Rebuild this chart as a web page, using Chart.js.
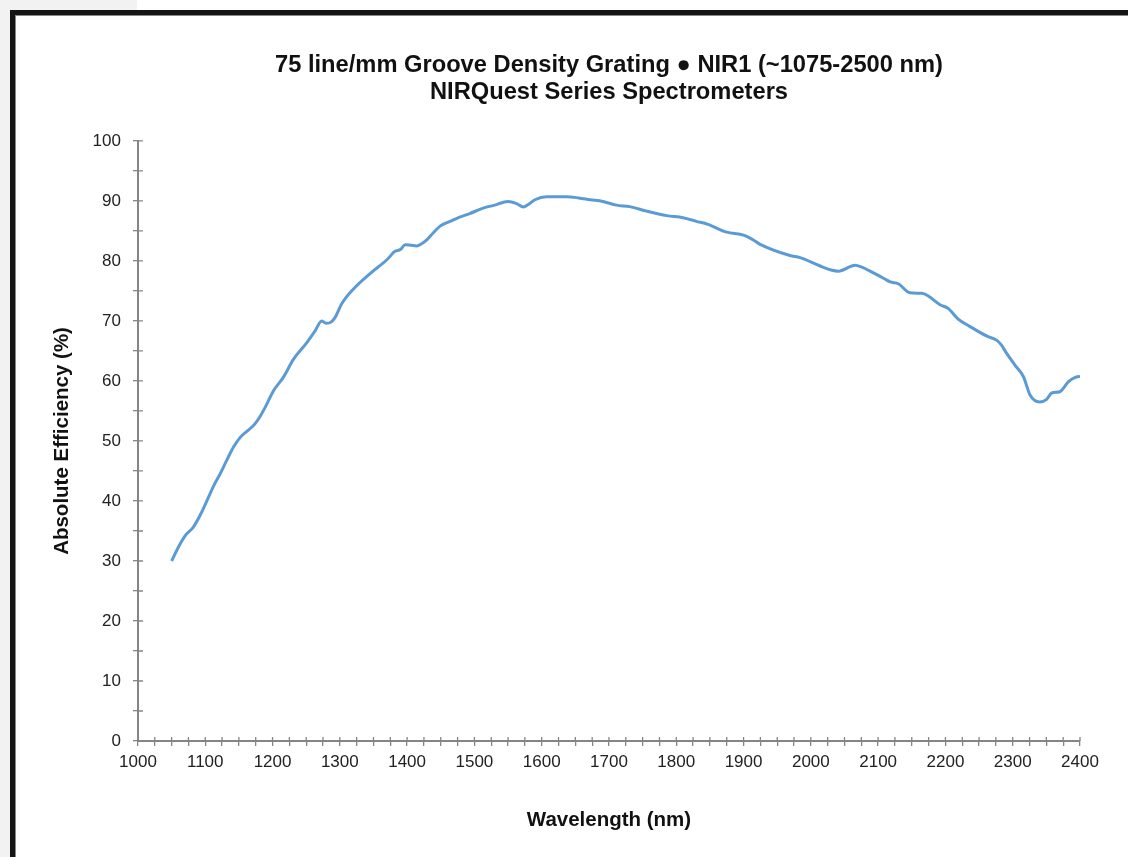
<!DOCTYPE html>
<html>
<head>
<meta charset="utf-8">
<script src="https://cdn.jsdelivr.net/npm/chart.js@4.4.1/dist/chart.umd.min.js"></script>
<style>
    html, body { margin: 0; padding: 0; background: #fff; overflow: hidden; }
    #grayLeft { position: absolute; left: 0; top: 0; width: 10px; height: 857px; background: #f2f2f2; }
    #grayTop { position: absolute; left: 0; top: 0; width: 137px; height: 10px; background: #f2f2f2; }
    #frame {
        position: absolute; left: 10px; top: 10px; width: 1200px; height: 900px;
        border-top: 5px solid #151515; border-left: 5px solid #151515;
        box-shadow: inset 1px 1px 0 #888; background: #fff;
    }
    #chartBox { position: absolute; left: 15px; top: 15px; width: 1113px; height: 842px; }
</style>
</head>
<body>
<div id="grayLeft"></div>
<div id="grayTop"></div>
<div id="frame"></div>
<div id="chartBox"><canvas id="effChart" width="1113" height="842"></canvas></div>
<script>
(function() {
    'use strict';

    // 読み取り値 (波長 nm / 絶対効率 %)
    const wavelengths = [
        1050, 1060, 1070, 1082, 1095, 1112, 1122, 1132, 1142, 1152,
        1164, 1172, 1181, 1190, 1201, 1216, 1231, 1251, 1263, 1273,
        1280, 1287, 1293, 1303, 1320, 1345, 1370, 1382, 1390, 1397,
        1406, 1414, 1422, 1430, 1439, 1449, 1464, 1478, 1493, 1513,
        1530, 1550, 1562, 1573, 1580, 1590, 1607, 1637, 1655, 1672,
        1691, 1711, 1731, 1756, 1786, 1810, 1830, 1847, 1875, 1900,
        1913, 1924, 1969, 1984, 2013, 2030, 2041, 2066, 2075, 2093,
        2110, 2118, 2130, 2147, 2165, 2174, 2192, 2204, 2219, 2236,
        2261, 2276, 2283, 2291, 2303, 2316, 2326, 2340, 2350, 2358,
        2370, 2383, 2393, 2400
    ];
    const efficiency = [
        30.0, 32.3, 34.2, 35.6, 38.2, 42.4, 44.5, 46.8, 49.0, 50.6,
        51.8, 52.6, 54.0, 55.8, 58.3, 60.6, 63.6, 66.4, 68.3, 70.0,
        69.6, 69.8, 70.6, 72.9, 75.3, 77.9, 80.2, 81.6, 81.9, 82.7,
        82.6, 82.5, 82.9, 83.6, 84.7, 85.8, 86.6, 87.3, 87.9, 88.8,
        89.3, 89.9, 89.6, 89.0, 89.4, 90.2, 90.7, 90.7, 90.5, 90.2,
        89.9, 89.3, 89.05, 88.3, 87.55, 87.2, 86.6, 86.1, 84.8, 84.3,
        83.6, 82.8, 80.9, 80.55, 79.2, 78.5, 78.3, 79.3, 79.0, 78.0,
        77.0, 76.5, 76.2, 74.7, 74.6, 74.2, 72.7, 72.1, 70.3, 69.1,
        67.5, 66.8, 66.0, 64.6, 62.7, 60.7, 57.6, 56.5, 56.9, 58.0,
        58.2, 59.9, 60.6, 60.8
    ];

    const TITLE_LINES = ['75 line/mm Groove Density Grating \u25CF NIR1 (~1075-2500 nm)', 'NIRQuest Series Spectrometers'];
    const X_TITLE = 'Wavelength (nm)';
    const Y_TITLE = 'Absolute Efficiency (%)';
    const X_MIN = 1000, X_MAX = 2400, X_STEP = 25, X_LABEL_EVERY = 100;
    const Y_MIN = 0, Y_MAX = 100, Y_STEP = 5, Y_LABEL_EVERY = 10;

    const FONT = '"Liberation Sans", Arial, Helvetica, sans-serif';
    const AXIS_GRAY = '#858585';

    // 軸を跨ぐ目盛り (内側部分)
    const crossTicks = {
        id: 'crossTicks',
        afterDraw(chart) {
            const ctx = chart.ctx;
            const xs = chart.scales.x, ys = chart.scales.y;
            ctx.save();
            ctx.strokeStyle = AXIS_GRAY;
            ctx.lineWidth = 1.3;
            ctx.beginPath();
            xs.ticks.forEach((t, i) => {
                const px = xs.getPixelForTick(i);
                ctx.moveTo(px, xs.top);
                ctx.lineTo(px, xs.top - 4);
            });
            ys.ticks.forEach((t, i) => {
                const py = ys.getPixelForTick(i);
                ctx.moveTo(ys.right, py);
                ctx.lineTo(ys.right + 5, py);
            });
            ctx.stroke();
            ctx.restore();
        }
    };

    const ctx = document.getElementById('effChart').getContext('2d');
    new Chart(ctx, {
        type: 'line',
        data: {
            datasets: [{
                data: wavelengths.map((w, i) => ({ x: w, y: efficiency[i] })),
                borderColor: '#5b9bd5',
                borderWidth: 3,
                pointRadius: 0,
                cubicInterpolationMode: 'monotone',
                fill: false
            }]
        },
        options: {
            responsive: false,
            devicePixelRatio: 1,
            animation: false,
            layout: { padding: { top: 0, right: 48, bottom: 0, left: 0 } },
            plugins: {
                legend: { display: false },
                tooltip: { enabled: false },
                title: {
                    display: true,
                    text: TITLE_LINES,
                    fullSize: false,
                    color: '#111',
                    font: { family: FONT, size: 23.7, weight: 'bold', lineHeight: 1.18 },
                    padding: { top: 36, bottom: 34 }
                }
            },
            scales: {
                x: {
                    type: 'linear',
                    min: X_MIN, max: X_MAX,
                    grid: { drawOnChartArea: false, drawTicks: true, tickLength: 5, color: AXIS_GRAY, lineWidth: 1.3 },
                    border: { display: true, color: AXIS_GRAY, width: 2 },
                    ticks: {
                        stepSize: X_STEP, autoSkip: false, maxRotation: 0, padding: 6,
                        color: '#222', font: { family: FONT, size: 17 },
                        callback: v => (v % X_LABEL_EVERY === 0 ? String(v) : '')
                    },
                    title: {
                        display: true, text: X_TITLE, color: '#111',
                        font: { family: FONT, size: 20.5, weight: 'bold' },
                        padding: { top: 30, bottom: 24 }
                    }
                },
                y: {
                    min: Y_MIN, max: Y_MAX,
                    grid: { drawOnChartArea: false, drawTicks: true, tickLength: 5, color: AXIS_GRAY, lineWidth: 1.3 },
                    border: { display: true, color: AXIS_GRAY, width: 2 },
                    ticks: {
                        stepSize: Y_STEP, autoSkip: false, padding: 12,
                        color: '#222', font: { family: FONT, size: 17 },
                        callback: v => (v % Y_LABEL_EVERY === 0 ? String(v) : '')
                    },
                    title: {
                        display: true, text: Y_TITLE, color: '#111',
                        font: { family: FONT, size: 20.5, weight: 'bold' },
                        padding: { top: 35, bottom: 6 }
                    }
                }
            }
        },
        plugins: [crossTicks]
    });
})();
</script>
</body>
</html>
